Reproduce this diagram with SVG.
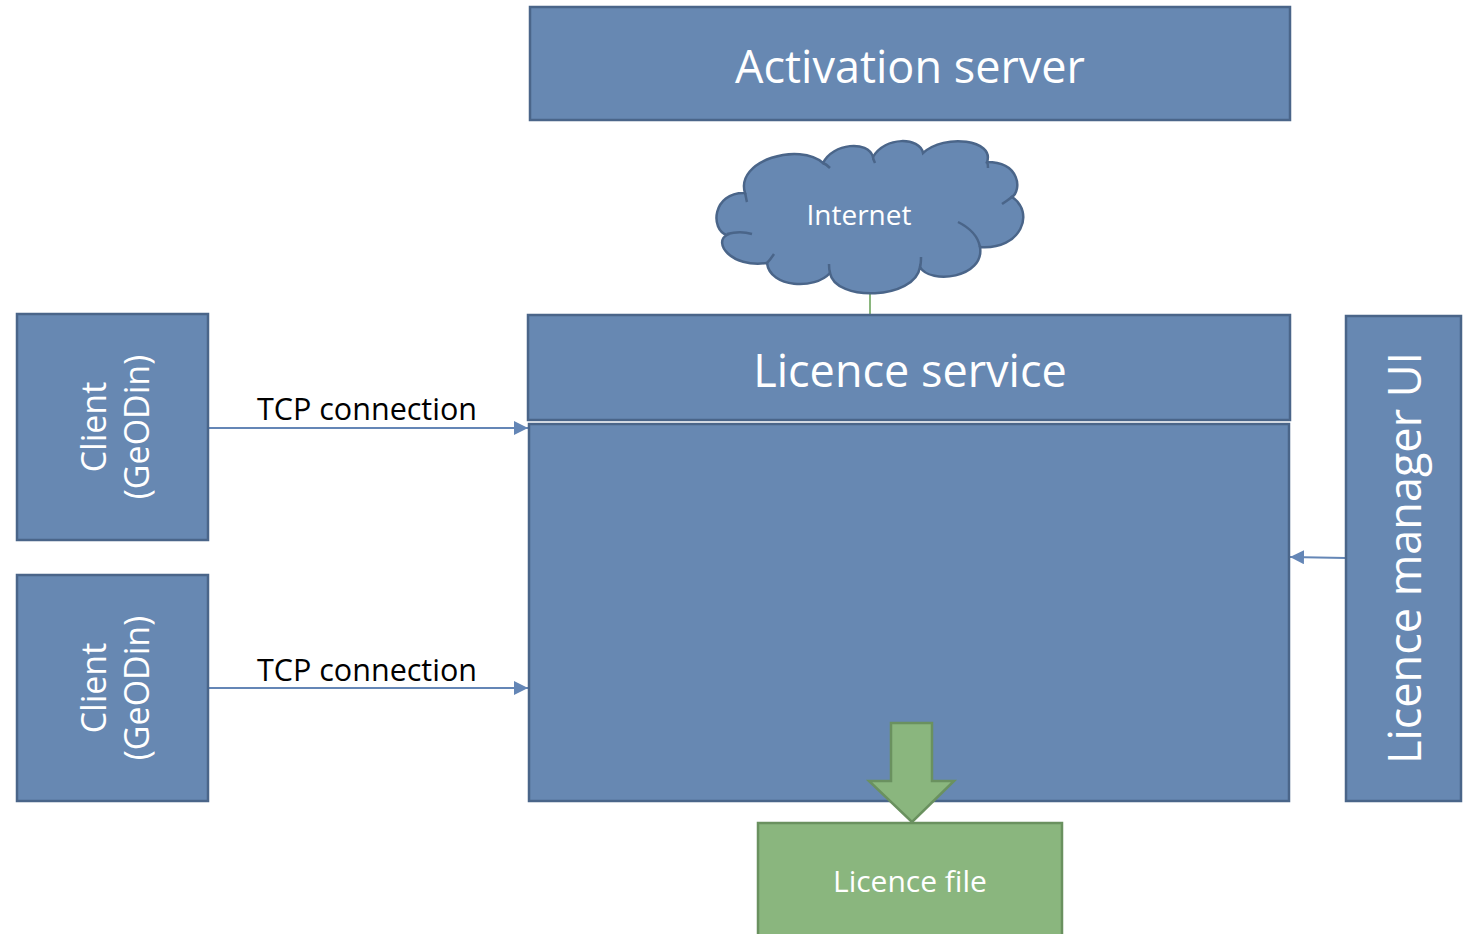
<svg xmlns="http://www.w3.org/2000/svg" width="1473" height="934" viewBox="0 0 1473 934">
<defs>
<style>
.box{fill:#6788b2;stroke:#4a6589;stroke-width:2.5}
.green{fill:#8ab67e;stroke:#6a915f;stroke-width:2.5}
.wt{fill:#ffffff;font-family:"Open Sans","Noto Sans",sans-serif;text-anchor:middle}
.bt{fill:#000000;font-family:"Open Sans","Noto Sans",sans-serif;text-anchor:middle}
.conn{stroke:#6486b6;stroke-width:2;fill:none}
.crease{fill:none;stroke:#4a6589;stroke-width:2.5}
</style>
<marker id="ah2" viewBox="0 0 10 10" refX="10" refY="5" markerWidth="14" markerHeight="14" markerUnits="userSpaceOnUse" orient="auto">
<path d="M0,0 L10,5 L0,10 Z" fill="#6486b6"/>
</marker>
</defs>
<rect width="1473" height="934" fill="#ffffff"/>

<g id="connectors">
<line class="conn" x1="208" y1="428" x2="528" y2="428" marker-end="url(#ah2)"/>
<line class="conn" x1="208" y1="688" x2="528" y2="688" marker-end="url(#ah2)"/>
<line class="conn" x1="1346" y1="558" x2="1290" y2="557" marker-end="url(#ah2)"/>
<line x1="870" y1="292" x2="870" y2="315" stroke="#8ab67e" stroke-width="2"/>
<text class="bt" x="367" y="420" font-size="30.5">TCP connection</text>
<text class="bt" x="367" y="681" font-size="30.5">TCP connection</text>
</g>

<g id="activation-server">
<rect class="box" x="530" y="7" width="760" height="113"/>
<text class="wt" x="910" y="83" font-size="45">Activation server</text>
</g>

<g id="internet">
<path class="box" d="M727 235 C710 230 712 192 745 193 C735 160 800 142 823 163 C833 143 868 140 873 157 C885 136 920 137 923 153 C945 133 995 140 987 162 C1020 162 1022 190 1012 197 C1035 212 1022 250 980 247 C985 278 930 285 920 267 C915 300 835 302 830 273 C815 290 770 288 767 263 C730 268 713 242 727 235 Z"/>
<path class="crease" d="M727 234 C735 232 745 232 752 234"/>
<path class="crease" d="M767 263 C770 260 772 257 774 254"/>
<path class="crease" d="M830 273 C829 270 829 267 829 264"/>
<path class="crease" d="M920 267 C921 264 921 261 921 257"/>
<path class="crease" d="M958 222 C970 228 978 236 980 247"/>
<path class="crease" d="M1002 204 C1006 201 1010 199 1013 196"/>
<path class="crease" d="M987 162 C988 164 988 166 988 168"/>
<path class="crease" d="M873 157 C873 159 874 161 875 163"/>
<path class="crease" d="M823 163 C826 164 828 166 830 168"/>
<path class="crease" d="M745 193 C746 196 746 199 747 202"/>
<text class="wt" x="859" y="225" font-size="28">Internet</text>
</g>

<g id="licence-service">
<rect class="box" x="528" y="315" width="762" height="105"/>
<text class="wt" x="910" y="387" font-size="45">Licence service</text>
</g>

<g id="service-body">
<rect class="box" x="529" y="424" width="760" height="377"/>
</g>

<g id="client-1">
<rect class="box" x="17" y="314" width="191" height="226"/>
<text class="wt" font-size="34" transform="translate(106 427) rotate(-90)"><tspan x="0" y="0">Client</tspan><tspan x="0" y="43">(GeODin)</tspan></text>
</g>

<g id="client-2">
<rect class="box" x="17" y="575" width="191" height="226"/>
<text class="wt" font-size="34" transform="translate(106 688) rotate(-90)"><tspan x="0" y="0">Client</tspan><tspan x="0" y="43">(GeODin)</tspan></text>
</g>

<g id="licence-manager-ui">
<rect class="box" x="1346" y="316" width="115" height="485"/>
<text class="wt" font-size="45" transform="translate(1421 558) rotate(-90)" x="0" y="0">Licence manager UI</text>
</g>

<g id="write-arrow">
<path class="green" d="M891 723 L932 723 L932 781 L954 781 L912 822 L869 781 L891 781 Z"/>
</g>

<g id="licence-file">
<rect class="green" x="758" y="823" width="304" height="120"/>
<text class="wt" x="910" y="892" font-size="30">Licence file</text>
</g>
</svg>
